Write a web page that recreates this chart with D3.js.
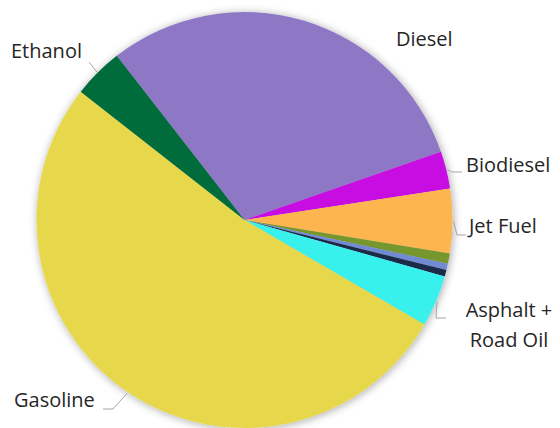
<!DOCTYPE html>
<html>
<head>
<meta charset="utf-8">
<script src="https://cdn.jsdelivr.net/npm/d3@7"></script>
<style>
  html, body { margin: 0; padding: 0; background: #fff; }
  svg { display: block; }
  text { font-family: "Open Sans", "Noto Sans", sans-serif; font-size: 20px; fill: #262626; }
</style>
</head>
<body>
<svg id="chart" width="560" height="428"></svg>
<script>
// Fuel shares (percent), listed clockwise from the Diesel slice
const categories = ["Diesel", "Biodiesel", "Jet Fuel", "Kerosene", "Lubricants", "Residual Fuel", "Asphalt + Road Oil", "Gasoline", "Ethanol"];
const shares = [30.2, 2.9, 5.0, 0.8, 0.5, 0.5, 4.0, 52.2, 3.9];
const colors = ["#8e78c6", "#c80de2", "#fdb650", "#76962e", "#6f8ad3", "#1f2b48", "#37f0ec", "#e7d84c", "#016c3b"];
const labelled = ["Diesel", "Biodiesel", "Jet Fuel", "Asphalt + Road Oil", "Gasoline", "Ethanol"];

const width = 560, height = 428;
const cx = 244.5, cy = 220, radius = 208;
const startDeg = -37.9;

const svg = d3.select("#chart");

const defs = svg.append("defs");
const shadow = defs.append("filter").attr("id", "pieShadow")
  .attr("x", "-20%").attr("y", "-20%").attr("width", "140%").attr("height", "140%");
shadow.append("feDropShadow")
  .attr("dx", 1).attr("dy", 1).attr("stdDeviation", 4)
  .attr("flood-color", "#000").attr("flood-opacity", 0.35);

const rows = categories.map((c, i) => ({ name: c, value: shares[i], color: colors[i] }));

const start = startDeg * Math.PI / 180;
const pie = d3.pie().sort(null).value(d => d.value)
  .startAngle(start).endAngle(start + 2 * Math.PI);
const arcs = pie(rows);
const arc = d3.arc().innerRadius(0).outerRadius(radius);

const g = svg.append("g").attr("transform", `translate(${cx},${cy})`);
g.append("g").attr("filter", "url(#pieShadow)")
  .selectAll("path").data(arcs).join("path")
  .attr("d", arc)
  .attr("fill", d => d.data.color);

// Label placement: text position plus the bend points of each leader line
const labelLayout = {
  "Diesel":             { lines: ["Diesel"], x: 396, y: 46, anchor: "start", leader: null },
  "Biodiesel":          { lines: ["Biodiesel"], x: 466, y: 172, anchor: "start", leader: [[452, 172], [462, 172]] },
  "Jet Fuel":           { lines: ["Jet Fuel"], x: 469, y: 233, anchor: "start", leader: [[457, 235], [466, 235]] },
  "Asphalt + Road Oil": { lines: ["Asphalt +", "Road Oil"], x: 509, y: 317, anchor: "middle", leader: [[436, 318], [446, 318]] },
  "Gasoline":           { lines: ["Gasoline"], x: 14, y: 407, anchor: "start", leader: [[113, 409], [103, 409]] },
  "Ethanol":            { lines: ["Ethanol"], x: 11, y: 58, anchor: "start", leader: [[89, 62]] }
};

const lineGen = d3.line();
arcs.filter(a => labelled.includes(a.data.name)).forEach(a => {
  const L = labelLayout[a.data.name];
  if (L.leader) {
    const mid = (a.startAngle + a.endAngle) / 2;
    const r0 = radius + 1;
    const p0 = [cx + r0 * Math.sin(mid), cy - r0 * Math.cos(mid)];
    svg.append("path")
      .attr("d", lineGen([p0, ...L.leader]))
      .attr("fill", "none")
      .attr("stroke", "#a6a6a6")
      .attr("stroke-width", 1);
  }
  const t = svg.append("text")
    .attr("text-anchor", L.anchor)
    .attr("x", L.x).attr("y", L.y);
  L.lines.forEach((s, i) => {
    t.append("tspan").attr("x", L.x).attr("dy", i === 0 ? 0 : 30).text(s);
  });
});
</script>
</body>
</html>
